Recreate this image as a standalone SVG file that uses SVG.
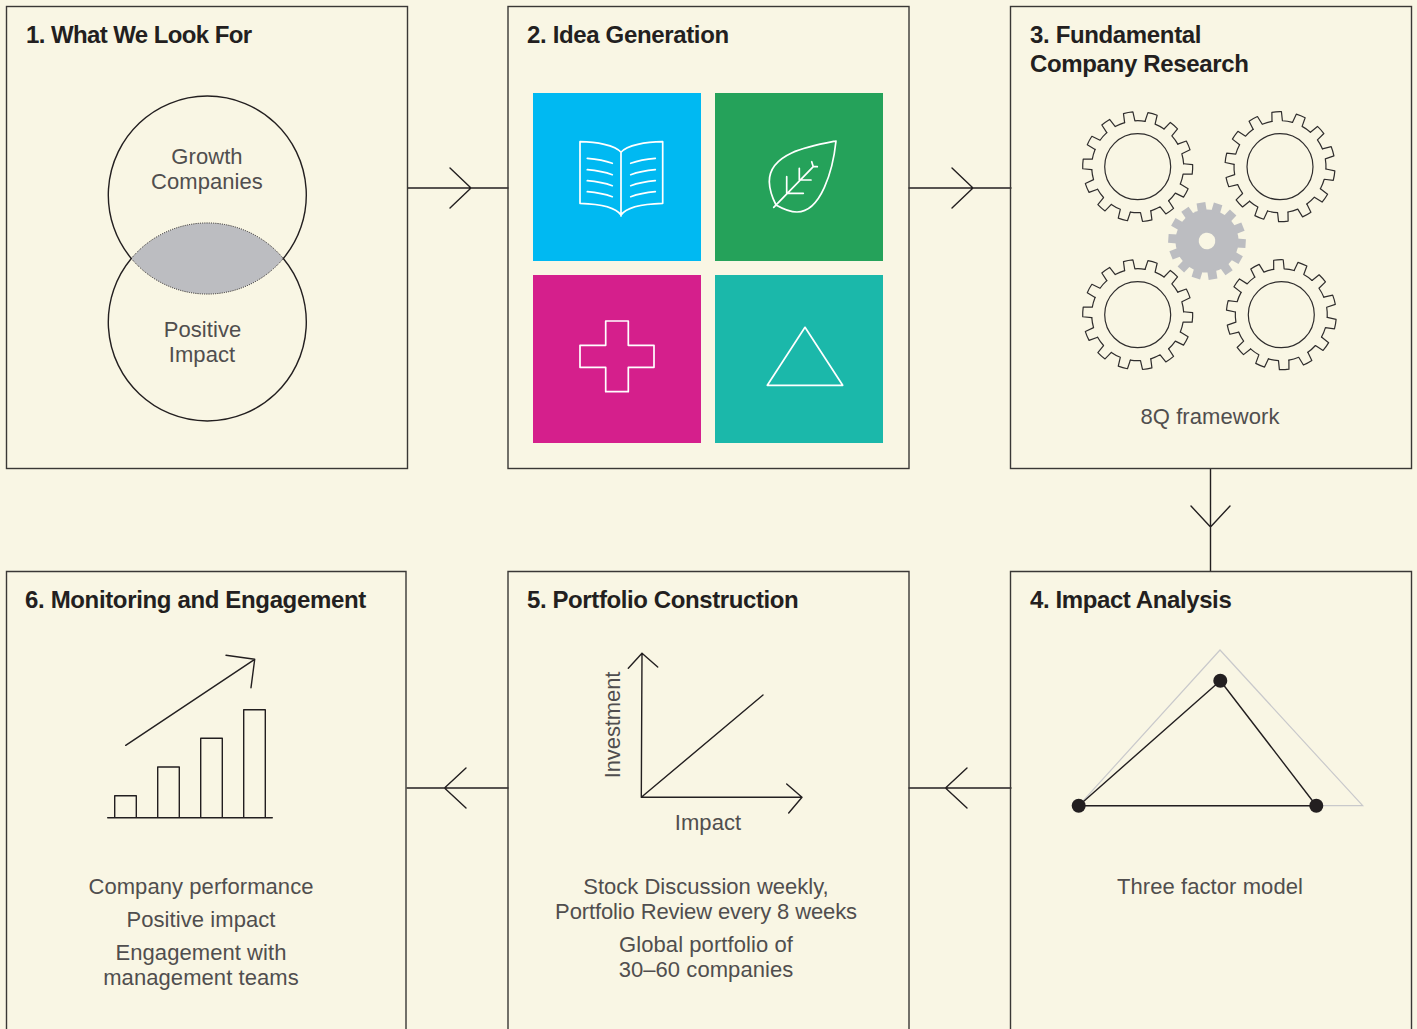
<svg xmlns="http://www.w3.org/2000/svg" xmlns:xlink="http://www.w3.org/1999/xlink" width="1417" height="1029" viewBox="0 0 1417 1029">
<style>
.box{fill:none;stroke:#3a3836;stroke-width:1.4}
.ln{fill:none;stroke:#231f20;stroke-width:1.4;stroke-linecap:round;stroke-linejoin:round}
.g{fill:none;stroke:#2f2d2d;stroke-width:1.2;stroke-linecap:round;stroke-linejoin:round}
.wh{fill:none;stroke:#fff;stroke-width:1.7;stroke-linejoin:round;stroke-linecap:round}
.t{font-family:"Liberation Sans",Arial,sans-serif;font-weight:700;font-size:24px;fill:#231f20;letter-spacing:-.35px}
.b{font-family:"Liberation Sans",Arial,sans-serif;font-size:22px;fill:#504e4e;text-anchor:middle;letter-spacing:.07px}
</style>
<defs>
<path id="tooth" class="g" d="M-5.21-45.7L-4.79-54.79A55 55 0 0 1 4.79-54.79L5.21-45.7A46 46 0 0 1 15.14-43.44"/>
<g id="gear">
<use href="#tooth"/><use href="#tooth" transform="rotate(25.714)"/><use href="#tooth" transform="rotate(51.429)"/><use href="#tooth" transform="rotate(77.143)"/><use href="#tooth" transform="rotate(102.857)"/><use href="#tooth" transform="rotate(128.571)"/><use href="#tooth" transform="rotate(154.286)"/><use href="#tooth" transform="rotate(180)"/><use href="#tooth" transform="rotate(205.714)"/><use href="#tooth" transform="rotate(231.429)"/><use href="#tooth" transform="rotate(257.143)"/><use href="#tooth" transform="rotate(282.857)"/><use href="#tooth" transform="rotate(308.571)"/><use href="#tooth" transform="rotate(334.286)"/>
</g>
<path id="gt" fill="#bcbdc1" d="M-4.43-29.67L-4.42-38.75H4.42L4.43-29.67Z"/>
</defs>
<rect width="1417" height="1029" fill="#f9f6e4"/>

<g id="connectors">
<path class="ln" d="M408 188H508M450 168L471 188L450 208"/>
<path class="ln" d="M909 188H1011M952 168L973 188L952 208"/>
<path class="ln" d="M1210.500 469V571M1191 506L1210.500 527L1230 506"/>
<path class="ln" d="M909 788H1011M967 768L945.500 788L967 808"/>
<path class="ln" d="M407 788H508M466 768L444.500 788L466 808"/>
</g>

<g id="node1">
<rect class="box" x="6.500" y="6.500" width="401" height="462"/>
<text class="t" x="26" y="43" style="letter-spacing:-.6px">1. What We Look For</text>
<path fill="#bcbdc1" stroke="#231f20" stroke-width="1" stroke-dasharray="1 1.2" d="M131.300 258.500A99 99 0 0 1 283.300 258.500A99 99 0 0 1 131.300 258.500Z"/>
<path class="ln" d="M131.300 258.500A99 99 0 1 1 283.300 258.500A99 99 0 1 1 131.300 258.500"/>
<text class="b" x="207" y="164">Growth</text>
<text class="b" x="207" y="189">Companies</text>
<text class="b" x="202.500" y="337">Positive</text>
<text class="b" x="202" y="362">Impact</text>
</g>

<g id="node2">
<rect class="box" x="508" y="6.500" width="401" height="462"/>
<text class="t" x="527" y="43">2. Idea Generation</text>
<rect x="533" y="93" width="168" height="168" fill="#00b9f2"/>
<rect x="715" y="93" width="168" height="168" fill="#25a25a"/>
<rect x="533" y="275" width="168" height="168" fill="#d51f8c"/>
<rect x="715" y="275" width="168" height="168" fill="#1bb8aa"/>
<path class="wh" d="M621 152.300C615 145 596 142 580 141.700V203.300C596 203.800 615 206 621 215C627 206 646 203.800 662.700 203.300V141.700C646 142 627 145 621 152.300V216M587.300 158.300Q602 159.500 612.300 163.300M587.300 169.700Q602 171 612.300 174.700M587.300 180.700Q602 182 612.300 185.700M587.300 191.700Q602 193 612.300 196.700M630.700 163.300Q641 159.500 655.300 158.300M630.700 174.700Q641 171 655.300 169.700M630.700 185.700Q641 182 655.300 180.700M630.700 196.700Q641 193 655.300 191.700"/>
<path class="wh" d="M836 141C810 146 769 153 769.300 181.700C769.500 192 773 199 776 205C783 209 790 212 797 212C821 212 833 170 836 141ZM773.700 207.300L813.300 166.700H817.300M813.300 166.700L811.700 161.700M786.700 176.700V193.300H803.300M799.300 168.300V180H811"/>
<path class="wh" d="M605.700 321H628.300V345.300H654V367.300H628.300V391.700H605.700V367.300H580V345.300H605.700Z"/>
<path class="wh" d="M805 327.300L842.700 385.300H767.300Z"/>
</g>

<g id="node3">
<rect class="box" x="1010.500" y="6.500" width="401" height="462"/>
<text class="t" x="1030" y="43">3. Fundamental</text>
<text class="t" x="1030" y="72">Company Research</text>
<use href="#gear" transform="translate(1137.700 166.700) rotate(-10)"/>
<use href="#gear" transform="translate(1280 166.700) rotate(-3.500)"/>
<use href="#gear" transform="translate(1137.700 314.700) rotate(-10)"/>
<use href="#gear" transform="translate(1281.300 314.700) rotate(-3)"/>
<circle class="g" cx="1137.700" cy="166.700" r="33"/>
<circle class="g" cx="1280" cy="166.700" r="33"/>
<circle class="g" cx="1137.700" cy="314.700" r="33"/>
<circle class="g" cx="1281.300" cy="314.700" r="33"/>
<g transform="translate(1207 241) rotate(-9)">
<circle r="31.500" fill="#bcbdc1"/>
<use href="#gt"/><use href="#gt" transform="rotate(25.714)"/><use href="#gt" transform="rotate(51.429)"/><use href="#gt" transform="rotate(77.143)"/><use href="#gt" transform="rotate(102.857)"/><use href="#gt" transform="rotate(128.571)"/><use href="#gt" transform="rotate(154.286)"/><use href="#gt" transform="rotate(180)"/><use href="#gt" transform="rotate(205.714)"/><use href="#gt" transform="rotate(231.429)"/><use href="#gt" transform="rotate(257.143)"/><use href="#gt" transform="rotate(282.857)"/><use href="#gt" transform="rotate(308.571)"/><use href="#gt" transform="rotate(334.286)"/>
<circle r="8.300" fill="#f9f6e4"/>
</g>
<text class="b" x="1210" y="424">8Q framework</text>
</g>

<g id="node4">
<path class="box" d="M1010.500 1029V571.500H1411.500V1029"/>
<text class="t" x="1030" y="608" style="letter-spacing:-.4px">4. Impact Analysis</text>
<path fill="none" stroke="#c9c9cb" stroke-width="1.200" d="M1078.700 805.700L1220 650L1362.700 805.700Z"/>
<path class="ln" d="M1078.700 805.700L1220.300 680.700L1316.300 805.700Z"/>
<circle cx="1078.700" cy="805.700" r="7" fill="#231f20"/>
<circle cx="1220.300" cy="680.700" r="7" fill="#231f20"/>
<circle cx="1316.300" cy="805.700" r="7" fill="#231f20"/>
<text class="b" x="1210" y="894">Three factor model</text>
</g>

<g id="node5">
<path class="box" d="M508 1029V571.500H909V1029"/>
<text class="t" x="527" y="608" style="letter-spacing:-.4px">5. Portfolio Construction</text>
<path class="ln" d="M642 653.300L641.300 797.300H802M628.300 668.300L642 653.300L657.700 667M786.700 784L802 797.300L788.700 813M641.300 797.300L763 695"/>
<text class="b" x="708" y="830">Impact</text>
<text class="b" transform="translate(620 725) rotate(-90)" style="letter-spacing:-.1px">Investment</text>
<text class="b" x="706" y="894" style="letter-spacing:0">Stock Discussion weekly,</text>
<text class="b" x="706" y="919" style="letter-spacing:-.13px">Portfolio Review every 8 weeks</text>
<text class="b" x="706" y="952">Global portfolio of</text>
<text class="b" x="706" y="977">30–60 companies</text>
</g>

<g id="node6">
<path class="box" d="M6.500 1029V571.500H406V1029"/>
<text class="t" x="25" y="608">6. Monitoring and Engagement</text>
<path class="ln" d="M107.700 817.700H272.300M114.700 817.700V795.700H136.300V817.700M157.700 817.700V767H179.300V817.700M200.700 817.700V738.300H222.300V817.700M243.700 817.700V709.700H265.300V817.700M125.700 745.300L254.700 659.300M226 655.300L254.700 659.300L251 687.700"/>
<text class="b" x="201" y="894">Company performance</text>
<text class="b" x="201" y="927">Positive impact</text>
<text class="b" x="201" y="960">Engagement with</text>
<text class="b" x="201" y="985">management teams</text>
</g>
</svg>
